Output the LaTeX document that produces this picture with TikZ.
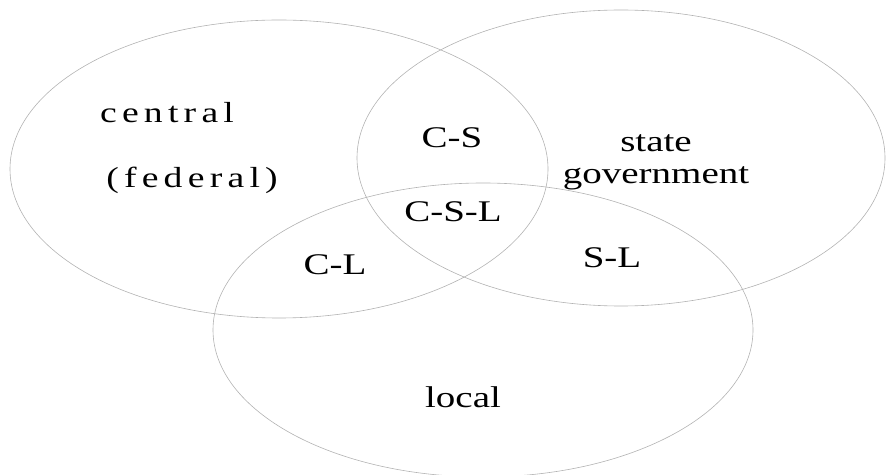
\documentclass[tikz,border=0pt]{standalone}
\usepackage{fontspec}
\setmainfont{Liberation Serif}[FakeStretch=1.3]

\begin{document}
\begin{tikzpicture}[x=1pt,y=1pt,
  set/.style={draw=black!30,line width=0.6pt},
  lbl/.style={font=\fontsize{30}{32}\selectfont,align=center,inner sep=0pt},
  spaced/.style={font=\fontsize{29}{32}\selectfont\addfontfeatures{LetterSpace=18},inner sep=0pt}]
  \useasboundingbox (0,0) rectangle (886,474);

  \coordinate (c) at (279,305);
  \coordinate (s) at (621,316);
  \coordinate (l) at (483,144);

  \draw[set] (c) ellipse [x radius=269, y radius=149];
  \draw[set] (s) ellipse [x radius=264, y radius=148];
  \draw[set] (l) ellipse [x radius=270, y radius=147];

  \node[spaced] (central) at (167,361) {central};
  \node[spaced] (federal) at (192,294) {(federal)};
  \node[lbl]    (state)   at (656,312) {state\\government};
  \node[lbl]    (local)   at (463,77)  {local};
  \node[lbl]    (cs)      at (452,336) {C-S};
  \node[lbl]    (csl)     at (453,262) {C-S-L};
  \node[lbl]    (cl)      at (335,209) {C-L};
  \node[lbl]    (sl)      at (612,216) {S-L};
\end{tikzpicture}
\end{document}
